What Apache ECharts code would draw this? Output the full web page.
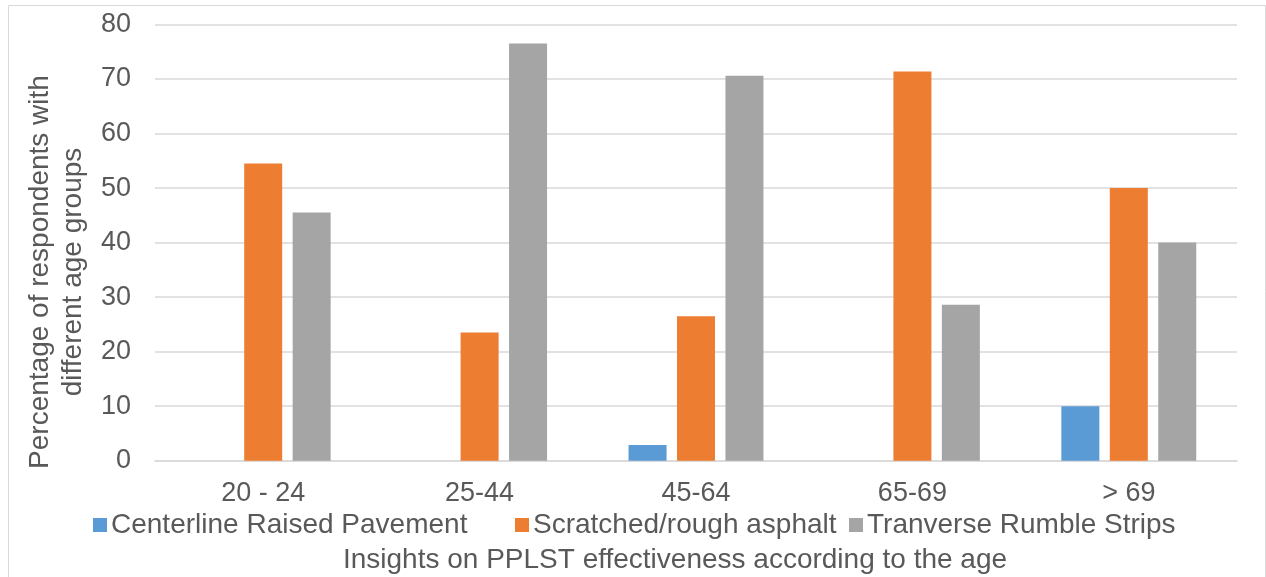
<!DOCTYPE html>
<html>
<head>
<meta charset="utf-8">
<script src="https://cdn.jsdelivr.net/npm/echarts@6/dist/echarts.min.js"></script>
<style>
  html, body { margin: 0; padding: 0; background: #ffffff; }
  #chart { width: 1266px; height: 577px; }
</style>
</head>
<body>
<div id="chart"></div>
<script>
// Age groups on the category axis
const ageGroups = ['20 - 24', '25-44', '45-64', '65-69', '> 69'];

// Share of respondents (%) choosing each treatment, per age group
const centerlineRaised = [0, 0, 2.9, 0, 10];
const scratchedAsphalt = [54.5, 23.5, 26.5, 71.4, 50];
const transverseRumble = [45.5, 76.5, 70.6, 28.6, 40];

const seriesNames = ['Centerline Raised Pavement', 'Scratched/rough asphalt', 'Tranverse Rumble Strips'];
const yTicks = { min: 0, max: 80, interval: 10 };

const yAxisTitle = 'Percentage of respondents with\ndifferent age groups';
const xAxisTitle = 'Insights on PPLST effectiveness according to the age';

const FONT = 'Liberation Sans, Arial, sans-serif';
const TEXT = '#595959';
const GRID = '#D9D9D9';
const COLORS = ['#5B9BD5', '#ED7D31', '#A5A5A5'];

const chart = echarts.init(document.getElementById('chart'), null, { renderer: 'canvas' });

// One legend per series so each entry can sit at its own horizontal spot
function legendFor(i, left) {
  return {
    data: [seriesNames[i]],
    left: left,
    top: 511,
    orient: 'horizontal',
    icon: 'rect',
    itemWidth: 14,
    itemHeight: 14,
    itemGap: 0,
    padding: 0,
    textStyle: { fontFamily: FONT, fontSize: 28, color: TEXT, padding: [0, 0, 0, -1] },
    selectedMode: false
  };
}

const option = {
  backgroundColor: '#ffffff',
  animation: false,
  color: COLORS,
  grid: { left: 155, right: 29, top: 24.5, bottom: 116.3, containLabel: false },
  legend: [legendFor(0, 93), legendFor(1, 515), legendFor(2, 849)],
  xAxis: {
    type: 'category',
    data: ageGroups,
    axisLine: { show: true, lineStyle: { color: GRID, width: 1.5 } },
    axisTick: { show: false },
    axisLabel: { fontFamily: FONT, fontSize: 27, color: TEXT, margin: 19 }
  },
  yAxis: {
    type: 'value',
    min: yTicks.min,
    max: yTicks.max,
    interval: yTicks.interval,
    axisLine: { show: false },
    axisTick: { show: false },
    axisLabel: { fontFamily: FONT, fontSize: 27, color: TEXT, margin: 24 },
    splitLine: { show: true, lineStyle: { color: GRID, width: 1.5 } }
  },
  series: [
    { name: seriesNames[0], type: 'bar', data: centerlineRaised, barWidth: 38, barGap: '27.5%' },
    { name: seriesNames[1], type: 'bar', data: scratchedAsphalt, barWidth: 38, barGap: '27.5%' },
    { name: seriesNames[2], type: 'bar', data: transverseRumble, barWidth: 38, barGap: '27.5%' }
  ],
  graphic: [
    {
      type: 'rect',
      silent: true,
      shape: { x: 8.5, y: 5.5, width: 1257, height: 620 },
      style: { fill: 'none', stroke: GRID, lineWidth: 1 }
    },
    {
      type: 'text',
      silent: true,
      x: 57,
      y: 272,
      rotation: Math.PI / 2,
      style: {
        text: yAxisTitle,
        fontFamily: FONT,
        fontSize: 28,
        lineHeight: 33,
        fill: TEXT,
        align: 'center',
        verticalAlign: 'middle'
      }
    },
    {
      type: 'text',
      silent: true,
      x: 675,
      y: 560,
      style: {
        text: xAxisTitle,
        fontFamily: FONT,
        fontSize: 28,
        fill: TEXT,
        align: 'center',
        verticalAlign: 'middle'
      }
    }
  ]
};

chart.setOption(option);
</script>
</body>
</html>
